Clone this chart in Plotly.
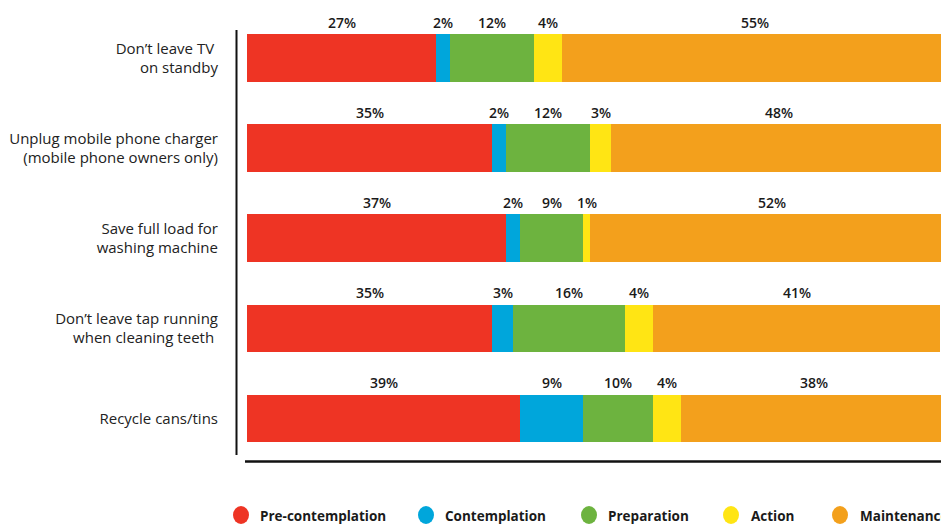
import plotly.graph_objects as go

# Behaviours surveyed (top to bottom)
behaviours = [
    "Don\u2019t leave TV <br>on standby",
    "Unplug mobile phone charger<br>(mobile phone owners only)",
    "Save full load for<br>washing machine",
    "Don\u2019t leave tap running<br>when cleaning teeth ",
    "Recycle cans/tins",
]

# Share of respondents in each stage of change (%)
stages = ["Pre-contemplation", "Contemplation", "Preparation", "Action", "Maintenance"]
pre_contemplation = [27, 35, 37, 35, 39]
contemplation = [2, 2, 2, 3, 9]
preparation = [12, 12, 9, 16, 10]
action = [4, 3, 1, 4, 4]
maintenance = [55, 48, 52, 41, 38]

stage_values = [pre_contemplation, contemplation, preparation, action, maintenance]
stage_colors = ["#EE3424", "#00A6DB", "#6DB33F", "#FFE514", "#F3A01C"]

W, H = 941, 524
L, R, T, B = 247, 0, 13, 58
plot_w = W - L - R
plot_h = H - T - B
px_per_pct = 7.0


def px_x(p):
    return (p - L) / plot_w


def px_y(p):
    return (T + plot_h - p) / plot_h


fig = go.Figure()
for name, vals, col in zip(stages, stage_values, stage_colors):
    fig.add_trace(go.Bar(
        name=name, y=behaviours, x=vals, orientation="h",
        marker=dict(color=col, line=dict(width=0)),
        width=0.53, showlegend=False, hoverinfo="x+name",
    ))

# Percentage labels above each segment
annotations = []
for i, cat in enumerate(behaviours):
    start = 0
    for vals in stage_values:
        v = vals[i]
        annotations.append(dict(
            x=start + v / 2, y=cat, xref="x", yref="y",
            text=f"{v}%", showarrow=False, yshift=36,
            font=dict(family="Open Sans", size=14, color="#1a1a1a", weight=600),
            xanchor="center", yanchor="middle",
        ))
        start += v

# Legend drawn as circles + labels along the bottom
legend_circle_x = [241, 426, 589, 731, 840]
legend_text_x = [258, 443, 606, 749, 858]
legend_y = 515
shapes = []
for cx, tx, name, col in zip(legend_circle_x, legend_text_x, stages, stage_colors):
    shapes.append(dict(
        type="circle", xref="paper", yref="paper",
        x0=px_x(cx - 8), x1=px_x(cx + 8), y0=px_y(legend_y + 9), y1=px_y(legend_y - 9),
        fillcolor=col, line=dict(width=0),
    ))
    annotations.append(dict(
        x=px_x(tx), y=px_y(legend_y + 1), xref="paper", yref="paper",
        text=name, showarrow=False, xanchor="left", yanchor="middle",
        font=dict(family="Open Sans", size=13.5, color="#1a1a1a", weight="bold"),
    ))

# Axis lines: vertical at the left, horizontal along the bottom
shapes.append(dict(type="line", xref="paper", yref="paper",
                   x0=px_x(236.5), x1=px_x(236.5), y0=px_y(455), y1=px_y(30),
                   line=dict(color="#111111", width=2)))
shapes.append(dict(type="line", xref="paper", yref="paper",
                   x0=px_x(245), x1=px_x(945), y0=px_y(461.5), y1=px_y(461.5),
                   line=dict(color="#111111", width=2.5)))

fig.update_layout(
    width=W, height=H,
    margin=dict(l=L, r=R, t=T, b=B, pad=0),
    barmode="stack",
    plot_bgcolor="white", paper_bgcolor="white",
    annotations=annotations, shapes=shapes,
    xaxis=dict(range=[0, plot_w / px_per_pct], showgrid=False, zeroline=False,
               showticklabels=False, showline=False, fixedrange=True),
    yaxis=dict(autorange="reversed", showgrid=False, zeroline=False,
               showline=False, ticks="", ticklabelstandoff=28,
               tickfont=dict(family="Open Sans", size=15, color="#222222")),
)

fig.write_html("out.html")
